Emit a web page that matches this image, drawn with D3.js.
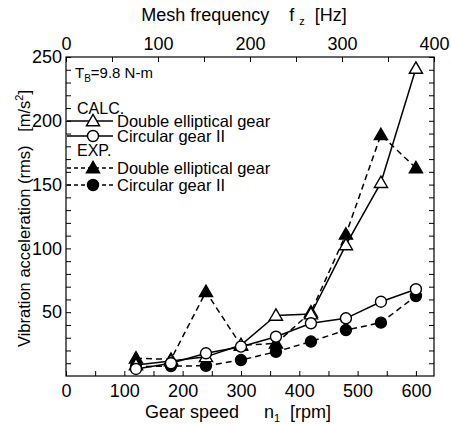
<!DOCTYPE html>
<meta charset="utf-8">
<head>
  <script src="https://d3js.org/d3.v7.min.js"></script>
  <style>
    body { margin: 0; background: #fff; }
    text { font-family: "Liberation Sans", Arial, sans-serif; fill: #000; white-space: pre; }
    .axis path, .axis line { stroke: #000; }
  </style>
</head>
<body>
<div id="chart"></div>
<script>
  // data
  var speeds = [120, 180, 240, 300, 360, 420, 480, 540, 600];
  var calcDouble = [8.6, 11.7, 15, 24.3, 47.5, 48.5, 102.7, 151.5, 241];
  var calcCircular = [5.5, 10, 17.8, 23, 30.8, 41.3, 45.2, 58.2, 68];
  var expDouble = [13.9, 13, 66, 24, 25.6, 50, 111, 189, 163];
  var expCircular = [7.3, 7.8, 8, 12.5, 19, 27, 36, 41.8, 62.7];
  var yTickLabels = [50, 100, 150, 200, 250];
  var xTickLabels = [0, 100, 200, 300, 400, 500, 600];
  var topTickLabels = [0, 100, 200, 300, 400];

  var margin = { top: 57, right: 17, bottom: 48, left: 66 },
    width = 451 - margin.left - margin.right,
    height = 424 - margin.top - margin.bottom;

  var svg = d3.select("#chart").append("svg")
    .attr("width", 451).attr("height", 424)
    .append("g")
    .attr("transform", "translate(" + margin.left + "," + margin.top + ")");

  var x = d3.scaleLinear().domain([0, 631]).range([0, width]);
  var xTop = d3.scaleLinear().domain([0, 400]).range([0, width]);
  var y = d3.scaleLinear().domain([0, 250]).range([height, 0]);

  // frame
  svg.append("rect").attr("width", width).attr("height", height)
    .attr("fill", "none").attr("stroke", "#000").attr("stroke-width", 1.2);

  // axes (ticks point inward)
  function styleAxis(g) {
    g.select(".domain").remove();
    g.selectAll("text").style("font-size", "18px");
    g.selectAll("line").attr("stroke-width", 1);
  }
  svg.append("g").attr("class", "axis").attr("transform", "translate(0," + height + ")")
    .call(d3.axisBottom(x).tickValues(d3.range(0, 601, 50)).tickSizeInner(-5).tickSizeOuter(0)
      .tickPadding(8).tickFormat(function (d) { return xTickLabels.indexOf(d) >= 0 ? d : ""; }))
    .call(styleAxis);
  svg.append("g").attr("class", "axis")
    .call(d3.axisTop(xTop).tickValues(d3.range(0, 401, 50)).tickSizeInner(-5).tickSizeOuter(0)
      .tickPadding(7).tickFormat(function (d) { return topTickLabels.indexOf(d) >= 0 ? d : ""; }))
    .call(styleAxis);
  svg.append("g").attr("class", "axis")
    .call(d3.axisLeft(y).tickValues(d3.range(10, 251, 10)).tickSizeInner(-5).tickSizeOuter(0)
      .tickPadding(4).tickFormat(function (d) { return yTickLabels.indexOf(d) >= 0 ? d : ""; }))
    .call(styleAxis);
  svg.append("g").attr("class", "axis").attr("transform", "translate(" + width + ",0)")
    .call(d3.axisRight(y).tickValues(d3.range(10, 251, 10)).tickSizeInner(-5).tickSizeOuter(0)
      .tickFormat(""))
    .call(styleAxis);

  // axis titles
  var xt = svg.append("text").attr("x", 172).attr("y", height + 42)
    .attr("text-anchor", "middle").style("font-size", "18px");
  xt.append("tspan").text("Gear speed     n");
  xt.append("tspan").attr("dy", 4).style("font-size", "11px").text("1");
  xt.append("tspan").attr("dy", -4).text("  [rpm]");

  var tt = svg.append("text").attr("x", 178).attr("y", -36)
    .attr("text-anchor", "middle").style("font-size", "18px");
  tt.append("tspan").text("Mesh frequency    f ");
  tt.append("tspan").attr("dy", 4).style("font-size", "11px").text("z");
  tt.append("tspan").attr("dy", -4).text("  [Hz]");

  var yt = svg.append("text").attr("transform", "translate(-36," + (height / 2 + 2) + ") rotate(-90)")
    .attr("text-anchor", "middle").style("font-size", "16.5px");
  yt.append("tspan").text("Vibration acceleration (rms)   [m/s");
  yt.append("tspan").attr("dy", -7).style("font-size", "11px").text("2");
  yt.append("tspan").attr("dy", 7).text("]");

  // series
  var series = [
    { vals: calcDouble, dash: null, marker: "tri", fill: "#fff" },
    { vals: calcCircular, dash: null, marker: "circ", fill: "#fff" },
    { vals: expDouble, dash: "6,4", marker: "tri", fill: "#000" },
    { vals: expCircular, dash: "6,4", marker: "circ", fill: "#000" }
  ];
  var line = d3.line().x(function (d) { return x(d[0]); }).y(function (d) { return y(d[1]); });
  var triSym = d3.symbol().type(d3.symbolTriangle).size(75);

  function drawMarker(g, type, fill, cx, cy) {
    if (type === "tri") {
      g.append("path").attr("d", triSym()).attr("transform", "translate(" + cx + "," + (cy + 1) + ")")
        .attr("fill", fill).attr("stroke", "#000").attr("stroke-width", 1.4);
    } else {
      g.append("circle").attr("cx", cx).attr("cy", cy).attr("r", 5.5)
        .attr("fill", fill).attr("stroke", "#000").attr("stroke-width", 1.4);
    }
  }

  // draw experimental first, then calculated on top
  [2, 3, 0, 1].forEach(function (i) {
    var s = series[i];
    var pts = speeds.map(function (v, j) { return [v, s.vals[j]]; });
    svg.append("path").datum(pts).attr("d", line).attr("fill", "none")
      .attr("stroke", "#000").attr("stroke-width", 1.5)
      .attr("stroke-dasharray", s.dash);
    var g = svg.append("g");
    pts.forEach(function (p) { drawMarker(g, s.marker, s.fill, x(p[0]), y(p[1])); });
  });

  // legend
  var lg = svg.append("g");
  var tb = lg.append("text").attr("x", 9).attr("y", 21).style("font-size", "15px");
  tb.append("tspan").text("T");
  tb.append("tspan").attr("dy", 4).style("font-size", "10px").text("B");
  tb.append("tspan").attr("dy", -4).text("=9.8 N-m");

  var rows = [
    { label: "CALC.", y: 51 },
    { label: "Double elliptical gear", y: 64, s: 0 },
    { label: "Circular gear II", y: 79, s: 1 },
    { label: "EXP.", y: 93 },
    { label: "Double elliptical gear", y: 111, s: 2 },
    { label: "Circular gear II", y: 128, s: 3 }
  ];
  rows.forEach(function (r) {
    if (r.s === undefined) {
      lg.append("text").attr("x", 11).attr("y", r.y + 6).style("font-size", "16px").text(r.label);
      return;
    }
    var s = series[r.s];
    lg.append("line").attr("x1", 1).attr("x2", 47).attr("y1", r.y).attr("y2", r.y)
      .attr("stroke", "#000").attr("stroke-width", 1.5).attr("stroke-dasharray", s.dash ? "4,3" : null);
    drawMarker(lg, s.marker, s.fill, 27, r.y);
    lg.append("text").attr("x", 51).attr("y", r.y + 6).style("font-size", "16.5px").text(r.label);
  });
</script>
</body>
